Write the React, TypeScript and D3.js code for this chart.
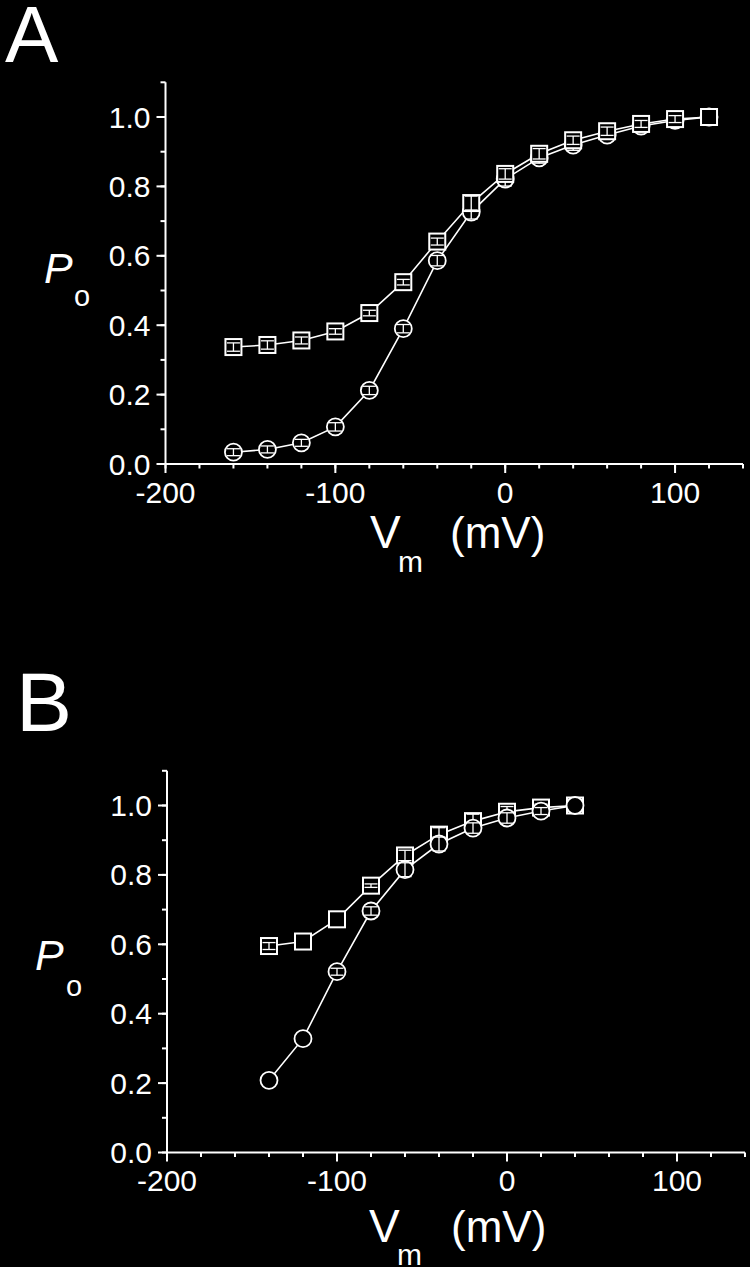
import React, { useEffect } from "react";
import * as d3 from "d3";

// ---- data ----
const vA = [-160, -140, -120, -100, -80, -60, -40, -20, 0, 20, 40, 60, 80, 100, 120];
const sqA = [0.337, 0.343, 0.356, 0.382, 0.435, 0.524, 0.641, 0.752, 0.836, 0.894, 0.933, 0.959, 0.98, 0.994, 1.0];
const sqAErr = [0.012, 0.012, 0.01, 0.008, 0.008, 0.008, 0.01, 0.02, 0.015, 0.015, 0.012, 0.012, 0.01, 0.01, 0];
const ciA = [0.034, 0.042, 0.061, 0.107, 0.212, 0.39, 0.586, 0.726, 0.821, 0.882, 0.919, 0.948, 0.974, 0.99, 1.0];
const ciAErr = [0.01, 0.01, 0.01, 0.012, 0.012, 0.012, 0.015, 0.02, 0.02, 0.015, 0.015, 0.012, 0.01, 0.008, 0];

const vB = [-140, -120, -100, -80, -60, -40, -20, 0, 20, 40];
const sqB = [0.595, 0.608, 0.672, 0.769, 0.856, 0.916, 0.955, 0.982, 0.994, 1.0];
const sqBErr = [0.01, 0, 0, 0.005, 0.015, 0.02, 0.02, 0.015, 0.01, 0];
const ciB = [0.208, 0.328, 0.521, 0.696, 0.815, 0.889, 0.935, 0.964, 0.984, 1.0];
const ciBErr = [0, 0, 0.01, 0.012, 0.02, 0.02, 0.015, 0.015, 0.01, 0];

const xMajor = [-200, -100, 0, 100];
const xMinor = d3.range(-200, 141, 20);
const yMajor = [0, 0.2, 0.4, 0.6, 0.8, 1.0];
const yMinor = d3.range(0, 11.5, 1).map((d) => d / 10);

const FONT = "'Liberation Sans', Arial, Helvetica, sans-serif";

type Series = { x: number[]; y: number[]; err: number[]; kind: "sq" | "ci" };

function Panel(props: {
  letter: string;
  letterX: number;
  letterY: number;
  letterSize: number;
  xRange: [number, number];
  yRange: [number, number];
  series: Series[];
  pX: number;
  pY: number;
  oX: number;
  oY: number;
  vX: number;
  vY: number;
  mY: number;
  mVX: number;
}) {
  const x = d3.scaleLinear().domain([-200, 140]).range(props.xRange);
  const y = d3.scaleLinear().domain([0, 1.1]).range(props.yRange);
  const x0 = x(-200);
  const y0 = y(0);
  const line = d3
    .line<[number, number]>()
    .x((d) => x(d[0]))
    .y((d) => y(d[1]));

  return (
    <g>
      <text x={props.letterX} y={props.letterY} fill="#fff" fontFamily={FONT} fontSize={props.letterSize}>
        {props.letter}
      </text>
      {/* axes */}
      <line x1={x0} x2={x0} y1={y(1.1)} y2={y0} stroke="#fff" strokeWidth={2} />
      <line x1={x0} x2={x(140)} y1={y0} y2={y0} stroke="#fff" strokeWidth={2} />
      {yMinor.map((t, i) => (
        <line key={"ym" + i} x1={x0 - 5} x2={x0} y1={y(t)} y2={y(t)} stroke="#fff" strokeWidth={2} />
      ))}
      {yMajor.map((t, i) => (
        <g key={"yM" + i}>
          <line x1={x0 - 9} x2={x0} y1={y(t)} y2={y(t)} stroke="#fff" strokeWidth={2} />
          <text
            x={x0 - 15}
            y={y(t) + 10.5}
            fill="#fff"
            fontFamily={FONT}
            fontSize={30}
            textAnchor="end"
          >
            {t.toFixed(1)}
          </text>
        </g>
      ))}
      {xMinor.map((t, i) => (
        <line key={"xm" + i} x1={x(t)} x2={x(t)} y1={y0} y2={y0 + 4.5} stroke="#fff" strokeWidth={2} />
      ))}
      {xMajor.map((t, i) => (
        <g key={"xM" + i}>
          <line x1={x(t)} x2={x(t)} y1={y0} y2={y0 + 9} stroke="#fff" strokeWidth={2} />
          <text x={x(t)} y={y0 + 38.5} fill="#fff" fontFamily={FONT} fontSize={30} textAnchor="middle">
            {t === 0 ? "0" : String(t)}
          </text>
        </g>
      ))}
      {/* axis titles */}
      <text x={props.pX} y={props.pY} fill="#fff" fontFamily={FONT} fontSize={43} fontStyle="italic">
        P
      </text>
      <text x={props.oX} y={props.oY} fill="#fff" fontFamily={FONT} fontSize={29}>
        o
      </text>
      <text x={props.vX} y={props.vY} fill="#fff" fontFamily={FONT} fontSize={46}>
        V
      </text>
      <text x={props.vX + 28} y={props.mY} fill="#fff" fontFamily={FONT} fontSize={30}>
        m
      </text>
      <text x={props.mVX} y={props.vY} fill="#fff" fontFamily={FONT} fontSize={44}>
        (mV)
      </text>
      {/* connecting lines */}
      {props.series.map((s, si) => (
        <path
          key={"l" + si}
          d={line(s.x.map((v, i) => [v, s.y[i]] as [number, number])) || ""}
          fill="none"
          stroke="#fff"
          strokeWidth={1.6}
        />
      ))}
      {/* markers + error bars */}
      {props.series.map((s, si) => (
        <g key={"m" + si}>
          {s.x.map((v, i) => {
            const cx = x(v);
            const cy = y(s.y[i]);
            const e = s.err[i];
            return (
              <g key={i}>
                {s.kind === "sq" ? (
                  <rect x={cx - 8} y={cy - 8} width={16} height={16} fill="#000" stroke="#fff" strokeWidth={2} />
                ) : (
                  <circle cx={cx} cy={cy} r={8.5} fill="#000" stroke="#fff" strokeWidth={1.8} />
                )}
                {e > 0 && (
                  <g stroke="#fff" strokeWidth={1.3}>
                    <line x1={cx} x2={cx} y1={y(s.y[i] + e)} y2={y(s.y[i] - e)} />
                    <line x1={cx - 6.5} x2={cx + 6.5} y1={y(s.y[i] + e)} y2={y(s.y[i] + e)} />
                    <line x1={cx - 6.5} x2={cx + 6.5} y1={y(s.y[i] - e)} y2={y(s.y[i] - e)} />
                  </g>
                )}
              </g>
            );
          })}
        </g>
      ))}
    </g>
  );
}

export default function App() {
  useEffect(() => {
    document.body.style.margin = "0";
    document.body.style.background = "#000";
  }, []);
  return (
    <svg
      width={750}
      height={1267}
      viewBox="0 0 750 1267"
      style={{ position: "absolute", left: 0, top: 0, display: "block", background: "#000" }}
    >
      <rect x={0} y={0} width={750} height={1267} fill="#000" />
      <Panel
        letter="A"
        letterX={5}
        letterY={62}
        letterSize={80}
        xRange={[165.5, 743]}
        yRange={[464, 82.3]}
        series={[
          { x: vA, y: ciA, err: ciAErr, kind: "ci" },
          { x: vA, y: sqA, err: sqAErr, kind: "sq" },
        ]}
        pX={44}
        pY={283}
        oX={74}
        oY={306}
        vX={370}
        vY={548}
        mY={572}
        mVX={450}
      />
      <Panel
        letter="B"
        letterX={16}
        letterY={731}
        letterSize={84}
        xRange={[167, 745]}
        yRange={[1152.5, 770.8]}
        series={[
          { x: vB, y: sqB, err: sqBErr, kind: "sq" },
          { x: vB, y: ciB, err: ciBErr, kind: "ci" },
        ]}
        pX={35}
        pY={970}
        oX={66}
        oY={996}
        vX={369}
        vY={1242}
        mY={1265}
        mVX={451}
      />
    </svg>
  );
}
